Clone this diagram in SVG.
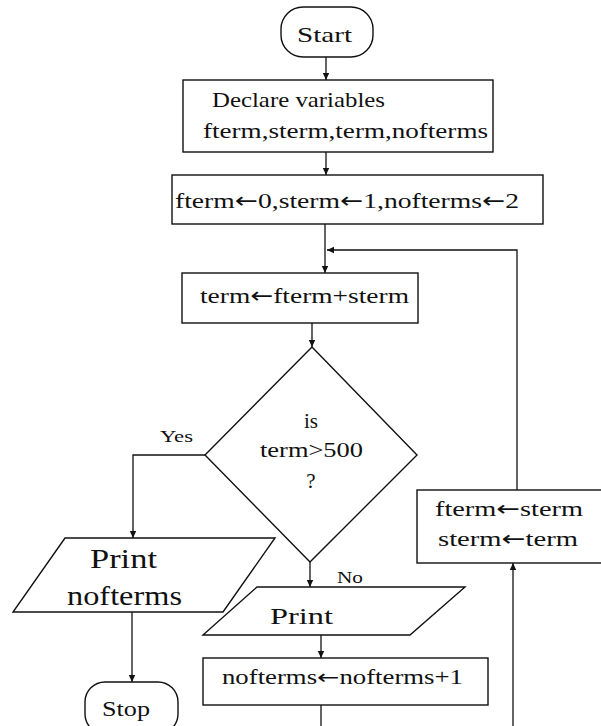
<svg xmlns="http://www.w3.org/2000/svg" width="601" height="726" viewBox="0 0 601 726">
<style>
.s{fill:#fff;stroke:#111;stroke-width:1.4}
.c{fill:none;stroke:#111;stroke-width:1.3}
text{font-family:"Liberation Serif","DejaVu Serif",serif;fill:#111}
.m{font-size:22px}
.t{text-anchor:middle}
.ar{font-family:"DejaVu Sans",sans-serif}
</style>
<defs>
<marker id="a" markerWidth="8" markerHeight="8" refX="7" refY="4" orient="auto" markerUnits="userSpaceOnUse">
<path d="M0,0.8 L7,4 L0,7.2 Z" fill="#111"/>
</marker>
</defs>
<rect width="601" height="726" fill="#fff"/>
<g id="connectors">
<line class="c" x1="326" y1="57" x2="326" y2="80" marker-end="url(#a)"/>
<line class="c" x1="326" y1="152" x2="326" y2="175" marker-end="url(#a)"/>
<line class="c" x1="325" y1="224" x2="325" y2="273" marker-end="url(#a)"/>
<polyline class="c" points="517,490 517,250 327,250" marker-end="url(#a)"/>
<line class="c" x1="312" y1="323" x2="312" y2="347" marker-end="url(#a)"/>
<polyline class="c" points="205,455 133,455 133,538" marker-end="url(#a)"/>
<line class="c" x1="132" y1="612" x2="132" y2="682" marker-end="url(#a)"/>
<line class="c" x1="310" y1="562" x2="310" y2="587" marker-end="url(#a)"/>
<line class="c" x1="321" y1="635" x2="321" y2="658" marker-end="url(#a)"/>
<line class="c" x1="321" y1="705" x2="321" y2="726"/>
<line class="c" x1="513" y1="726" x2="513" y2="563" marker-end="url(#a)"/>
<text x="160" y="442" textLength="33" lengthAdjust="spacingAndGlyphs" style="font-size:17px">Yes</text>
<text x="337" y="583" textLength="26" lengthAdjust="spacingAndGlyphs" style="font-size:17px">No</text>
</g>
<g id="start">
<rect class="s" x="281" y="7" width="92" height="50" rx="22"/>
<text class="m" x="297" y="42" textLength="55" lengthAdjust="spacingAndGlyphs">Start</text>
</g>
<g id="declare">
<rect class="s" x="183" y="80" width="310" height="72"/>
<text class="m" x="212" y="107" textLength="173" lengthAdjust="spacingAndGlyphs">Declare variables</text>
<text class="m" x="203" y="138" textLength="285" lengthAdjust="spacingAndGlyphs">fterm,sterm,term,nofterms</text>
</g>
<g id="init">
<rect class="s" x="172" y="175" width="371" height="49"/>
<text class="m" x="175" y="208" textLength="344" lengthAdjust="spacingAndGlyphs">fterm<tspan class="ar">←</tspan>0,sterm<tspan class="ar">←</tspan>1,nofterms<tspan class="ar">←</tspan>2</text>
</g>
<g id="sum">
<rect class="s" x="182" y="273" width="236" height="50"/>
<text class="m" x="200" y="303" textLength="209" lengthAdjust="spacingAndGlyphs">term<tspan class="ar">←</tspan>fterm+sterm</text>
</g>
<g id="decision">
<polygon class="s" points="312,347 417,455 310,562 205,455"/>
<text class="m t" x="311" y="428" style="font-size:21px">is</text>
<text x="260" y="457" textLength="103" lengthAdjust="spacingAndGlyphs" style="font-size:21px">term&gt;500</text>
<text class="m t" x="311" y="488" style="font-size:21px">?</text>
</g>
<g id="print-nofterms">
<polygon class="s" points="65,538 275,538 223,612 13,612"/>
<text x="90" y="568" textLength="67" lengthAdjust="spacingAndGlyphs" style="font-size:28px">Print</text>
<text x="67" y="605" textLength="115" lengthAdjust="spacingAndGlyphs" style="font-size:28px">nofterms</text>
</g>
<g id="stop">
<rect class="s" x="85" y="682" width="93" height="52" rx="20"/>
<text class="m" x="102" y="716" textLength="48" lengthAdjust="spacingAndGlyphs">Stop</text>
</g>
<g id="print">
<polygon class="s" points="257,587 465,587 410,635 203,635"/>
<text x="270" y="624" textLength="63" lengthAdjust="spacingAndGlyphs" style="font-size:24px">Print</text>
</g>
<g id="increment">
<rect class="s" x="203" y="658" width="285" height="47"/>
<text x="222" y="684" textLength="241" lengthAdjust="spacingAndGlyphs" style="font-size:20px">nofterms<tspan class="ar">←</tspan>nofterms+1</text>
</g>
<g id="shift">
<rect class="s" x="417" y="490" width="186" height="73"/>
<text x="435" y="516" textLength="148" lengthAdjust="spacingAndGlyphs" style="font-size:21px">fterm<tspan class="ar">←</tspan>sterm</text>
<text x="438" y="546" textLength="140" lengthAdjust="spacingAndGlyphs" style="font-size:21px">sterm<tspan class="ar">←</tspan>term</text>
</g>
</svg>
